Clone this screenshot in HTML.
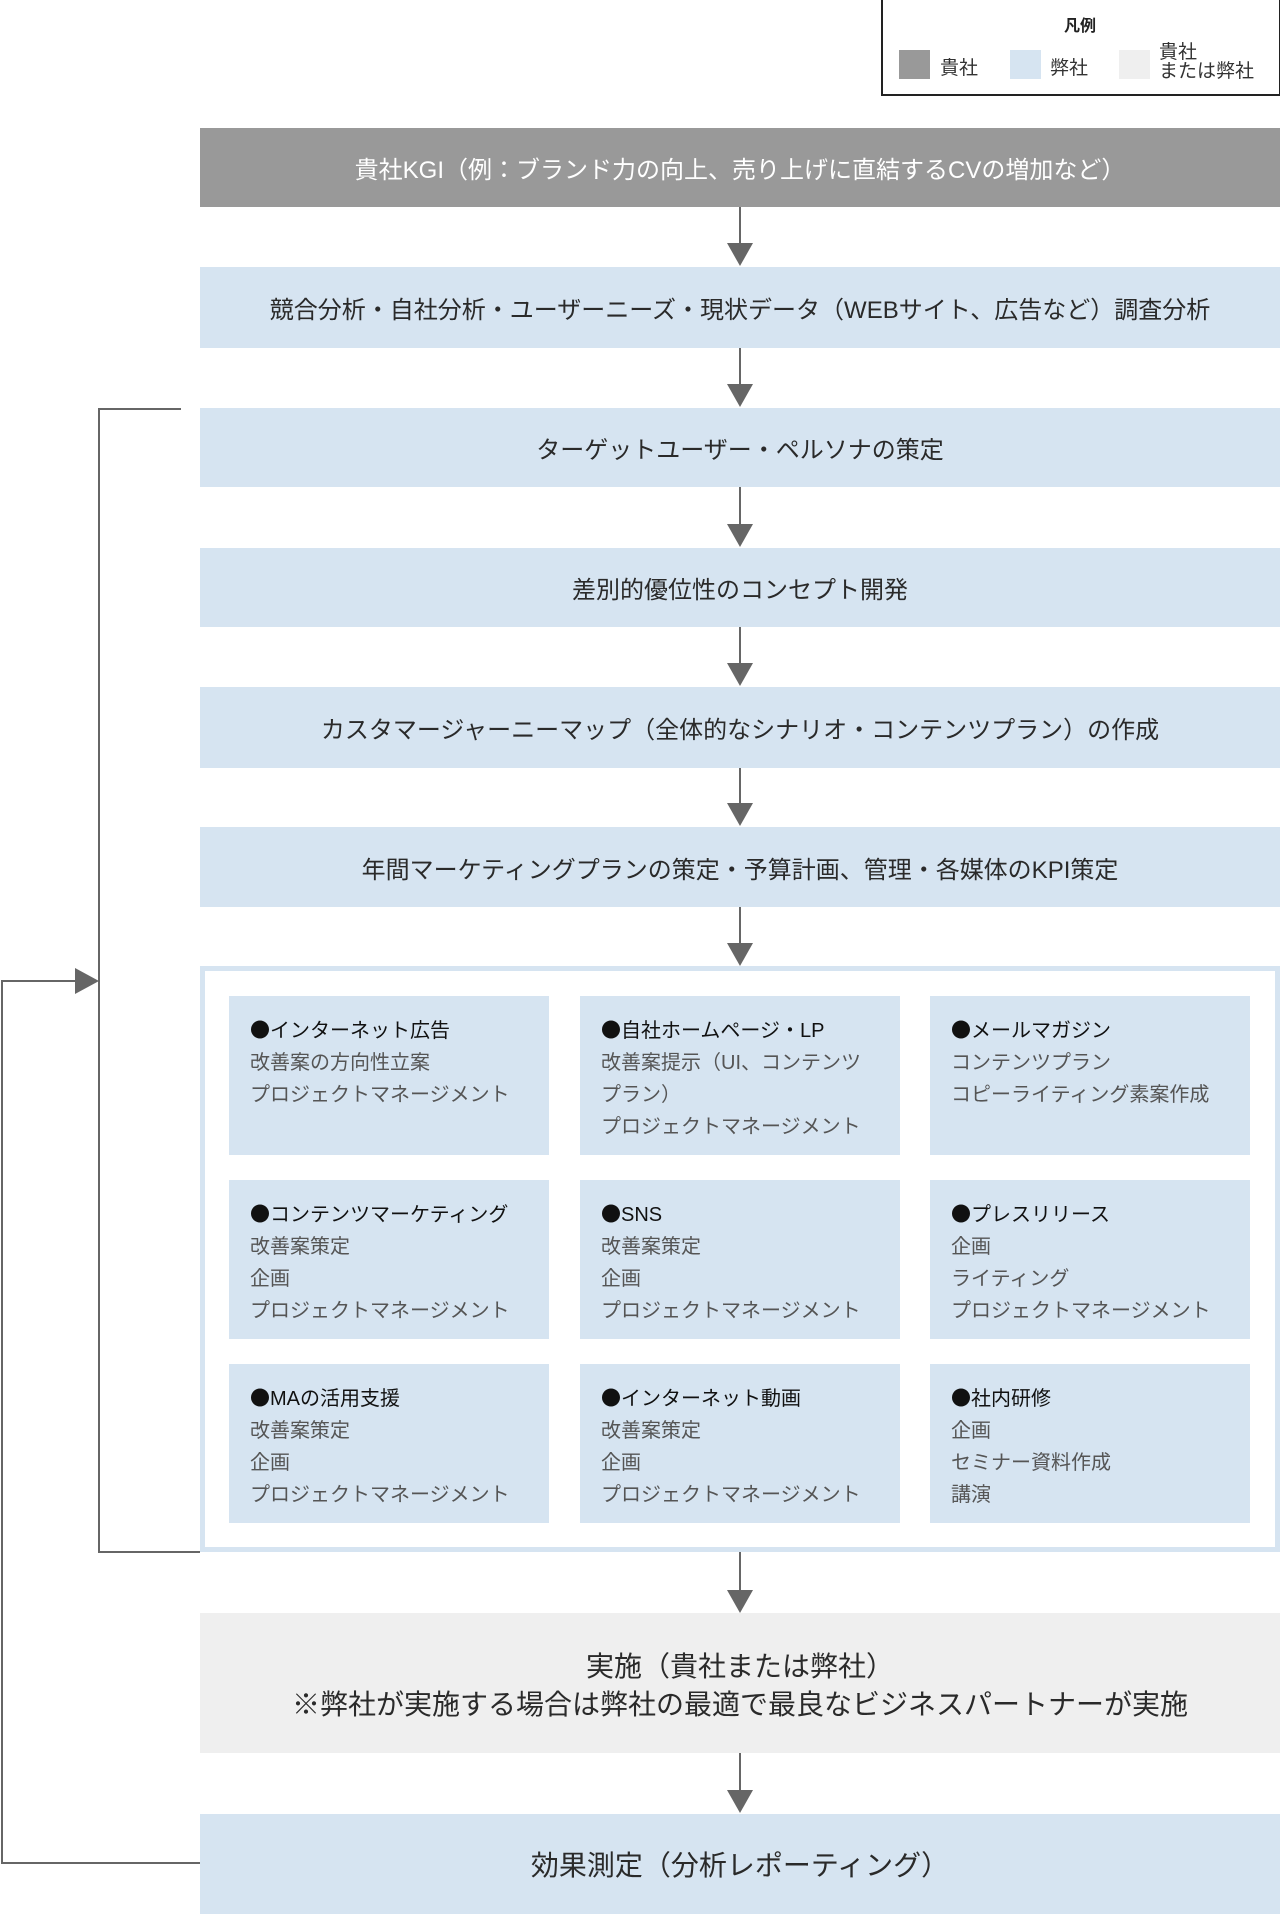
<!DOCTYPE html>
<html><head><meta charset="utf-8"><style>
body{margin:0;width:1280px;height:1914px;position:relative;background:#fff;font-family:"Liberation Sans","Noto Sans CJK JP",sans-serif;color:#333;overflow:hidden}
.a{position:absolute}
.bar{position:absolute;left:200px;width:1080px;background:#d6e4f1;display:flex;align-items:center;justify-content:center;font-size:24px;color:#2a2a2a}
.box{position:absolute;width:320px;height:159px;background:#d6e4f1;box-sizing:border-box;padding:17px 0 0 21px;font-size:20px;line-height:32px;color:#555}
.box b{font-weight:normal;color:#111}
.d{font-family:"Noto Sans CJK JP",sans-serif}
</style></head><body>
<div class="a" style="left:881px;top:0;width:396px;height:94px;border:2px solid #222;border-top:none"></div>
<div class="a" style="left:1040px;top:12px;width:80px;text-align:center;font-size:16px;font-weight:bold;color:#222">凡例</div>
<div class="a" style="left:899px;top:50px;width:31px;height:29px;background:#999"></div>
<div class="a" style="left:940px;top:53px;font-size:19px">貴社</div>
<div class="a" style="left:1010px;top:50px;width:31px;height:29px;background:#d6e4f1"></div>
<div class="a" style="left:1050px;top:53px;font-size:19px">弊社</div>
<div class="a" style="left:1119px;top:50px;width:31px;height:29px;background:#efefef"></div>
<div class="a" style="left:1159px;top:43px;font-size:19px;line-height:19px">貴社<br>または弊社</div>

<div class="bar" style="top:128px;height:79px;background:#999;color:#fff">貴社KGI（例：ブランド力の向上、売り上げに直結するCVの増加など）</div>
<div class="bar" style="top:267px;height:81px">競合分析・自社分析・ユーザーニーズ・現状データ（WEBサイト、広告など）調査分析</div>
<div class="bar" style="top:408px;height:79px">ターゲットユーザー・ペルソナの策定</div>
<div class="bar" style="top:548px;height:79px">差別的優位性のコンセプト開発</div>
<div class="bar" style="top:687px;height:81px">カスタマージャーニーマップ（全体的なシナリオ・コンテンツプラン）の作成</div>
<div class="bar" style="top:827px;height:80px">年間マーケティングプランの策定・予算計画、管理・各媒体のKPI策定</div>

<div class="a" style="left:200px;top:966px;width:1080px;height:586px;box-sizing:border-box;border:5px solid #d6e4f1"></div>
<div class="box" style="left:229px;top:996px"><b><span class="d">●</span>インターネット広告</b><br>改善案の方向性立案<br>プロジェクトマネージメント</div>
<div class="box" style="left:580px;top:996px"><b><span class="d">●</span>自社ホームページ・LP</b><br>改善案提示（UI、コンテンツ<br>プラン）<br>プロジェクトマネージメント</div>
<div class="box" style="left:930px;top:996px"><b><span class="d">●</span>メールマガジン</b><br>コンテンツプラン<br>コピーライティング素案作成</div>
<div class="box" style="left:229px;top:1180px"><b><span class="d">●</span>コンテンツマーケティング</b><br>改善案策定<br>企画<br>プロジェクトマネージメント</div>
<div class="box" style="left:580px;top:1180px"><b><span class="d">●</span>SNS</b><br>改善案策定<br>企画<br>プロジェクトマネージメント</div>
<div class="box" style="left:930px;top:1180px"><b><span class="d">●</span>プレスリリース</b><br>企画<br>ライティング<br>プロジェクトマネージメント</div>
<div class="box" style="left:229px;top:1364px"><b><span class="d">●</span>MAの活用支援</b><br>改善案策定<br>企画<br>プロジェクトマネージメント</div>
<div class="box" style="left:580px;top:1364px"><b><span class="d">●</span>インターネット動画</b><br>改善案策定<br>企画<br>プロジェクトマネージメント</div>
<div class="box" style="left:930px;top:1364px"><b><span class="d">●</span>社内研修</b><br>企画<br>セミナー資料作成<br>講演</div>

<div class="bar" style="top:1613px;height:140px;background:#efefef;font-size:28px;line-height:38px;text-align:center;padding-top:6px;box-sizing:border-box">実施（貴社または弊社）<br>※弊社が実施する場合は弊社の最適で最良なビジネスパートナーが実施</div>
<div class="bar" style="top:1814px;height:100px;font-size:28px">効果測定（分析レポーティング）</div>

<svg class="a" style="left:0;top:0" width="1280" height="1914">
<g stroke="#666" stroke-width="2" fill="none">
<path d="M740 207V245M740 348V386M740 487V526M740 627V665M740 768V805M740 907V945M740 1552V1592M740 1753V1792"/>
<path d="M181 409H99V1552H200"/>
<path d="M200 1863H2V981H80"/>
</g>
<g fill="#666">
<path d="M727 243L753 243L740 266Z"/><path d="M727 384L753 384L740 407Z"/><path d="M727 524L753 524L740 547Z"/><path d="M727 663L753 663L740 686Z"/><path d="M727 803L753 803L740 826Z"/><path d="M727 943L753 943L740 966Z"/><path d="M727 1590L753 1590L740 1613Z"/><path d="M727 1790L753 1790L740 1813Z"/>
<path d="M75 968L99 981L75 994Z"/>
</g>
</svg>
</body></html>
